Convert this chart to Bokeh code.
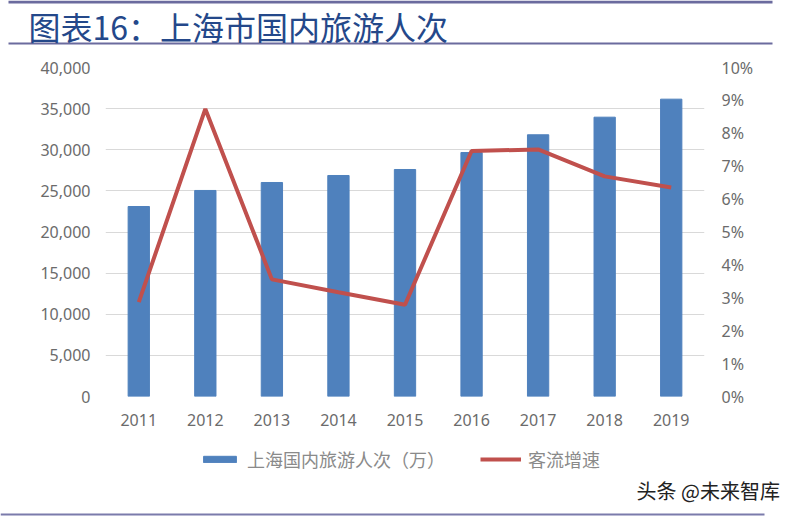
from bokeh.plotting import figure
from bokeh.layouts import column
from bokeh.models import (ColumnDataSource, Range1d, LinearAxis, FixedTicker,
                          NumeralTickFormatter, PrintfTickFormatter, Legend,
                          LegendItem, Label, BoxAnnotation)
from bokeh.embed import file_html
from bokeh.resources import INLINE

years = ["2011", "2012", "2013", "2014", "2015", "2016", "2017", "2018", "2019"]
visitors = [23100, 25050, 26020, 26870, 27600, 29660, 31820, 33960, 36150]
growth = [2.87, 8.74, 3.56, 3.17, 2.79, 7.46, 7.51, 6.69, 6.35]
left_ticks = [0, 5000, 10000, 15000, 20000, 25000, 30000, 35000, 40000]
right_ticks = [0, 1, 2, 3, 4, 5, 6, 7, 8, 9, 10]
title_text = "图表16：上海市国内旅游人次"
bar_name = "上海国内旅游人次（万）"
line_name = "客流增速"
watermark = "头条 @未来智库"

BAR_COLOR = "#4F81BD"
LINE_COLOR = "#C0504D"
RULE_COLOR = "#6B6B9E"
CJK = "Noto Sans CJK SC"

W = 794
HEAD_H, MAIN_H, FOOT_H = 50, 390, 77


def deco_fig(h):
    f = figure(width=W, height=h, x_range=Range1d(0, W), y_range=Range1d(h, 0),
               x_axis_type=None, y_axis_type=None, output_backend="svg",
               toolbar_location=None, min_border=0, frame_align=False)
    f.outline_line_color = None
    f.background_fill_color = "white"
    f.border_fill_color = "white"
    return f


def rule(x0, x1, y0, y1, color):
    return BoxAnnotation(left=x0, right=x1, top=y0, bottom=y1,
                         fill_color=color, fill_alpha=1, line_color=None)


# ---------------- header ----------------
head = deco_fig(HEAD_H)
head.add_layout(rule(8, 772, 0, 3, RULE_COLOR))
head.add_layout(rule(8, 772, 42, 44, RULE_COLOR))
head.add_layout(Label(x=28, y=25, text=title_text, text_font=CJK,
                      text_font_size="32px", text_color="#24488A",
                      text_baseline="middle"))

# ---------------- main chart ----------------
src = ColumnDataSource(dict(year=years, visitors=visitors, growth=growth))

p = figure(width=W, height=MAIN_H, x_range=years, y_range=Range1d(0, 40000),
           output_backend="svg", toolbar_location=None, frame_align=False,
           min_border_left=105, min_border_right=90, min_border_top=17,
           min_border_bottom=44)
p.outline_line_color = None
p.background_fill_color = "white"
p.border_fill_color = "white"
p.extra_y_ranges = {"pct": Range1d(0, 10)}

label_color = "#6b6b6b"
num_font = "Noto Sans"

ax = p.yaxis[0]
ax.ticker = FixedTicker(ticks=left_ticks)
ax.formatter = NumeralTickFormatter(format="0,0")
rax = LinearAxis(y_range_name="pct", ticker=FixedTicker(ticks=right_ticks),
                 formatter=PrintfTickFormatter(format="%d%%"))
p.add_layout(rax, "right")

for a in [ax, rax, p.xaxis[0]]:
    a.axis_line_color = None
    a.major_tick_line_color = None
    a.minor_tick_line_color = None
    a.major_tick_out = 0
    a.major_tick_in = 0
    a.minor_tick_out = 0
    a.major_label_text_color = label_color
    a.major_label_text_font = num_font
    a.major_label_text_font_size = "16px"
ax.major_label_standoff = 15
rax.major_label_standoff = 17
p.xaxis[0].major_label_standoff = 17

p.xgrid.grid_line_color = None
p.ygrid.grid_line_color = "#d9d9d9"
p.ygrid.grid_line_width = 1
p.ygrid.ticker = FixedTicker(ticks=left_ticks)

p.vbar(x="year", top="visitors", width=0.32, source=src,
       fill_color=BAR_COLOR, line_color=BAR_COLOR)
p.line(x="year", y="growth", source=src, y_range_name="pct",
       line_color=LINE_COLOR, line_width=4)

# ---------------- footer (legend, watermark) ----------------
foot = deco_fig(FOOT_H)
nan = float("nan")
key_src = ColumnDataSource(dict(x=[nan, nan], y=[nan, nan]))
leg_bar = foot.vbar(x="x", top="y", width=1, source=key_src,
                    fill_color=BAR_COLOR, line_color=BAR_COLOR)
leg_line = foot.line(x="x", y="y", source=key_src, line_color=LINE_COLOR,
                     line_width=4)
legend = Legend(items=[LegendItem(label=bar_name, renderers=[leg_bar]),
                       LegendItem(label=line_name, renderers=[leg_line])],
                orientation="horizontal", location=(199, 45),
                border_line_color=None, background_fill_alpha=0,
                glyph_width=41, glyph_height=8, label_text_font=CJK,
                label_text_font_size="18px", label_text_color="#8a8a8a",
                spacing=35, padding=0, margin=0, label_standoff=7)
foot.add_layout(legend, "center")
foot.add_layout(Label(x=636, y=50, text=watermark, text_font=CJK,
                      text_font_size="20px", text_color="#222222",
                      text_baseline="middle"))
foot.add_layout(rule(0, 764, 73, 75, "#7B7BAB"))

layout = column(head, p, foot, spacing=0)
open("out.html", "w").write(file_html(layout, INLINE))
